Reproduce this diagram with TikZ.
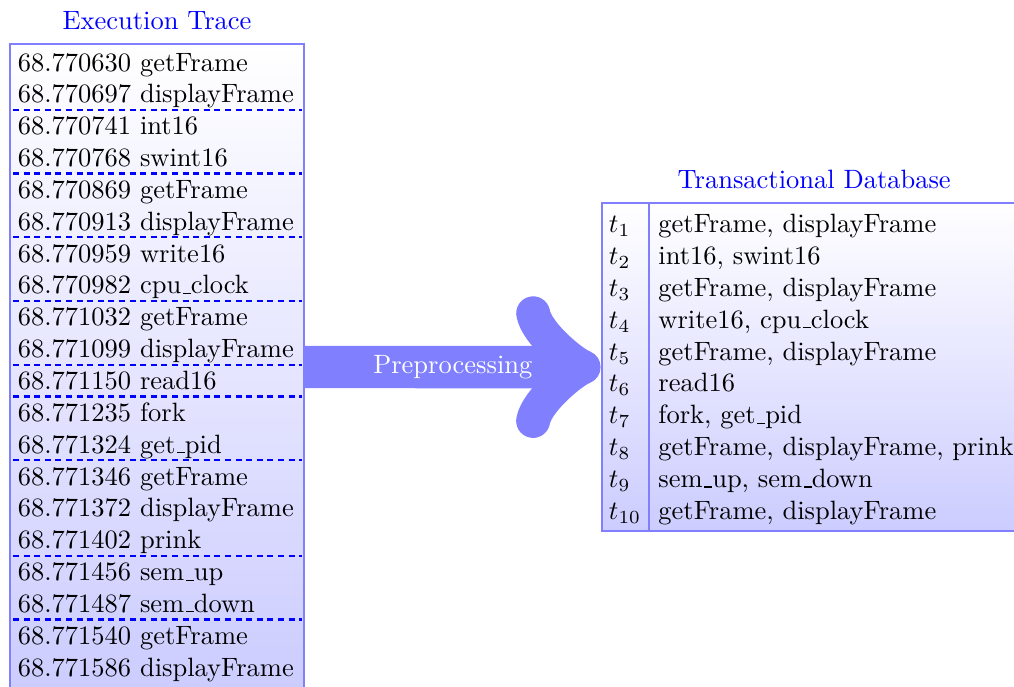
\documentclass[tikz,border=0pt]{standalone}
\usepackage{amsmath}
\usepackage{tikz}
\usetikzlibrary{positioning,calc}

% Narrow underscore, as in the old text fonts
\newcommand{\usc}{\leavevmode\kern.06em\vbox{\hrule width.3em}}

\begin{document}
\begin{tikzpicture}[
    panel/.style={draw=blue!50, line width=0.8pt, top color=white, bottom color=blue!20, inner sep=0pt},
    title/.style={text=blue, inner sep=0pt, text depth=0pt},
    row/.style={anchor=base west, inner sep=0pt},
    sep/.style={draw=blue, line width=0.8pt, dash pattern=on 2.3pt off 1.7pt},
    flow/.style={draw=blue!50, line width=16pt, -to}
]

% Fix the picture size
\useasboundingbox (0,0) rectangle (13.45,-9.10);
\clip (0,0) rectangle (13.45,-9.10);

% Define the two panels
\node[panel, minimum width=3.899cm, minimum height=8.568cm] (trace) at (2.083,-4.868) {};
\node[panel, minimum width=5.640cm, minimum height=4.346cm] (db) at (10.800,-4.870) {};

% Add panel titles
\node[title, above=4.9pt of trace] (tracetitle) {Execution Trace};
\node[title, above=4.9pt of db] (dbtitle) {Transactional Database};

% Add trace events
\node[row] (ev1) at (0.230,-0.942) {68.770630 getFrame};
\node[row] (ev2) at (0.230,-1.364) {68.770697 displayFrame};
\node[row] (ev3) at (0.230,-1.787) {68.770741 int16};
\node[row] (ev4) at (0.230,-2.209) {68.770768 swint16};
\node[row] (ev5) at (0.230,-2.632) {68.770869 getFrame};
\node[row] (ev6) at (0.230,-3.054) {68.770913 displayFrame};
\node[row] (ev7) at (0.230,-3.477) {68.770959 write16};
\node[row] (ev8) at (0.230,-3.899) {68.770982 cpu\usc clock};
\node[row] (ev9) at (0.230,-4.322) {68.771032 getFrame};
\node[row] (ev10) at (0.230,-4.744) {68.771099 displayFrame};
\node[row] (ev11) at (0.230,-5.167) {68.771150 read16};
\node[row] (ev12) at (0.230,-5.589) {68.771235 fork};
\node[row] (ev13) at (0.230,-6.012) {68.771324 get\usc pid};
\node[row] (ev14) at (0.230,-6.434) {68.771346 getFrame};
\node[row] (ev15) at (0.230,-6.857) {68.771372 displayFrame};
\node[row] (ev16) at (0.230,-7.279) {68.771402 prink};
\node[row] (ev17) at (0.230,-7.702) {68.771456 sem\usc up};
\node[row] (ev18) at (0.230,-8.124) {68.771487 sem\usc down};
\node[row] (ev19) at (0.230,-8.547) {68.771540 getFrame};
\node[row] (ev20) at (0.230,-8.969) {68.771586 displayFrame};

% Dashed lines between transactions
\draw[sep] (0.172,-1.457) -- (4.006,-1.457);
\draw[sep] (0.172,-2.302) -- (4.006,-2.302);
\draw[sep] (0.172,-3.147) -- (4.006,-3.147);
\draw[sep] (0.172,-3.992) -- (4.006,-3.992);
\draw[sep] (0.172,-4.837) -- (4.006,-4.837);
\draw[sep] (0.172,-5.260) -- (4.006,-5.260);
\draw[sep] (0.172,-6.105) -- (4.006,-6.105);
\draw[sep] (0.172,-7.372) -- (4.006,-7.372);
\draw[sep] (0.172,-8.217) -- (4.006,-8.217);

% Add transaction ids and itemsets
\draw[draw=blue!50, line width=0.8pt] (8.613,0 |- db.north) -- (8.613,0 |- db.south);
\node[row] (tid1) at (8.070,-3.087) {$t_{1}$};
\node[row] (tid2) at (8.070,-3.509) {$t_{2}$};
\node[row] (tid3) at (8.070,-3.932) {$t_{3}$};
\node[row] (tid4) at (8.070,-4.354) {$t_{4}$};
\node[row] (tid5) at (8.070,-4.777) {$t_{5}$};
\node[row] (tid6) at (8.070,-5.199) {$t_{6}$};
\node[row] (tid7) at (8.070,-5.622) {$t_{7}$};
\node[row] (tid8) at (8.070,-6.044) {$t_{8}$};
\node[row] (tid9) at (8.070,-6.467) {$t_{9}$};
\node[row] (tid10) at (8.070,-6.889) {$t_{10}$};
\node[row] (set1) at (8.727,-3.087) {getFrame, displayFrame};
\node[row] (set2) at (8.727,-3.509) {int16, swint16};
\node[row] (set3) at (8.727,-3.932) {getFrame, displayFrame};
\node[row] (set4) at (8.727,-4.354) {write16, cpu\usc clock};
\node[row] (set5) at (8.727,-4.777) {getFrame, displayFrame};
\node[row] (set6) at (8.727,-5.199) {read16};
\node[row] (set7) at (8.727,-5.622) {fork, get\usc pid};
\node[row] (set8) at (8.727,-6.044) {getFrame, displayFrame, prink};
\node[row] (set9) at (8.727,-6.467) {sem\usc up, sem\usc down};
\node[row] (set10) at (8.727,-6.889) {getFrame, displayFrame};

% Preprocessing arrow
\draw[flow] (trace.east) -- (db.west) node[midway, text=white] {Preprocessing};

\end{tikzpicture}
\end{document}
